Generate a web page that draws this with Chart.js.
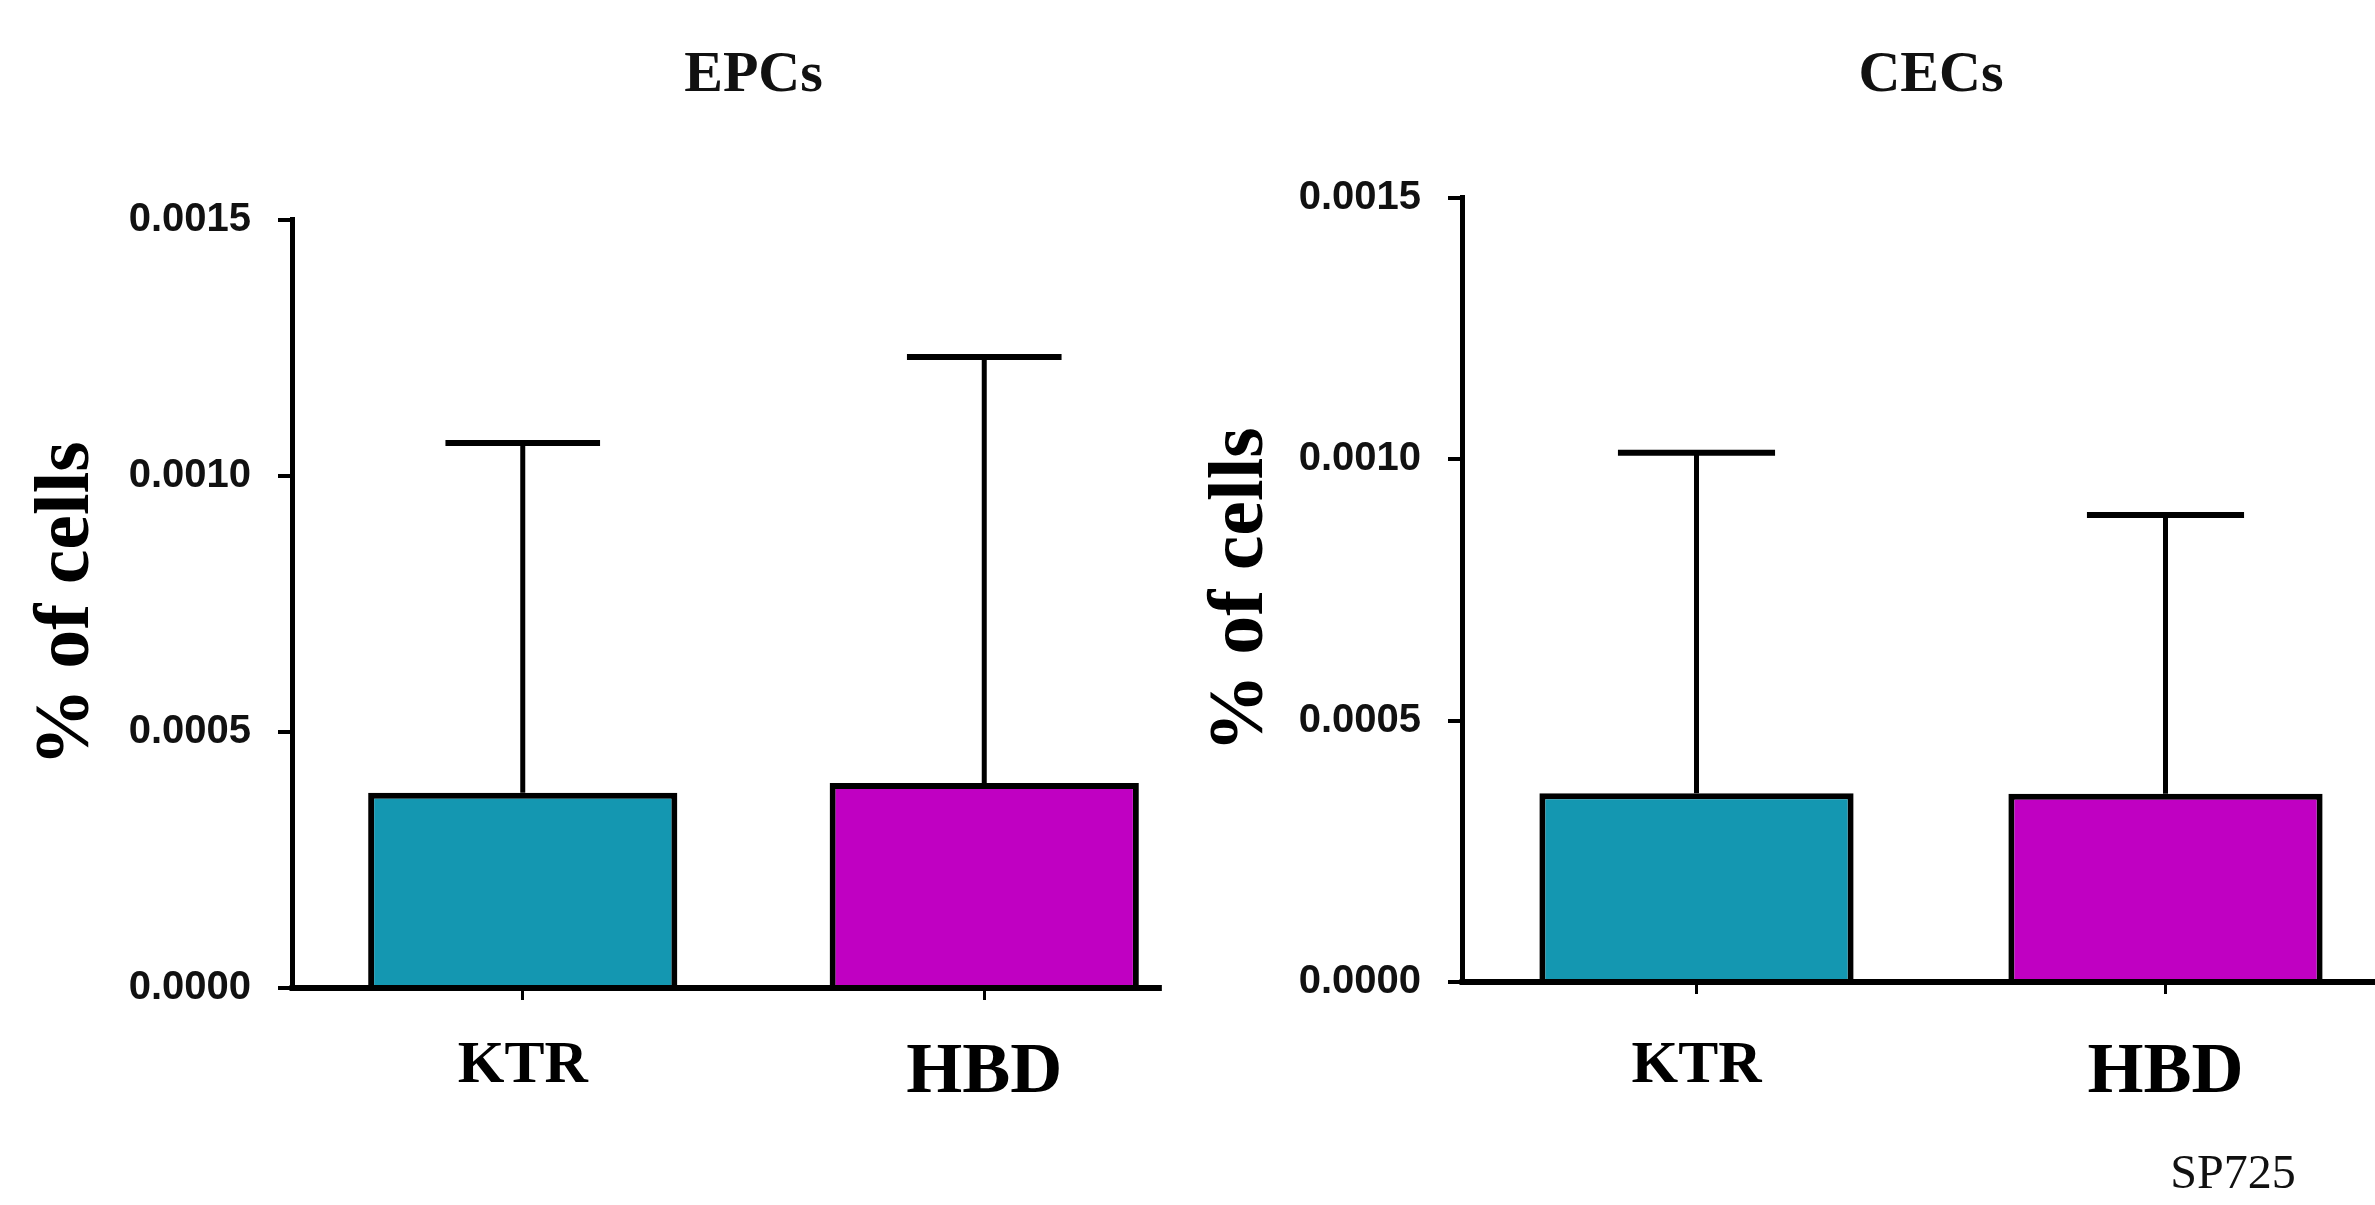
<!DOCTYPE html>
<html><head><meta charset="utf-8">
<script src="https://cdn.jsdelivr.net/npm/chart.js@4.4.1/dist/chart.umd.min.js"></script>
<style>
html,body{margin:0;padding:0;background:#fff;width:2375px;height:1205px;overflow:hidden;position:relative}
canvas{position:absolute;top:0}
</style></head><body>
<canvas id="c1" width="1215" height="1205" style="left:0px"></canvas>
<canvas id="c2" width="1220" height="1205" style="left:1180px"></canvas>
<script>
// ---- data ----
const groups = ['KTR', 'HBD'];
const barColors = ['#1497B1', '#C000C2'];
const epcTitle = 'EPCs';
const epcMeans = [0.000381, 0.000400];
const epcErrors = [0.000683, 0.000832];   // upper error (SD)
const cecTitle = 'CECs';
const cecMeans = [0.000361, 0.000360];
const cecErrors = [0.000651, 0.000533];
const yTicks = [0, 0.0005, 0.0010, 0.0015];
const yTitle = '% of cells';
const noteText = 'SP725';

const errorBarPlugin = {
  id: 'errorBars',
  afterDatasetsDraw(chart, args, opts) {
    const ctx = chart.ctx;
    const ys = chart.scales.y;
    const meta = chart.getDatasetMeta(0);
    const means = chart.data.datasets[0].data;
    const errs = opts.errors || [];
    ctx.save();
    ctx.strokeStyle = '#000';
    ctx.lineCap = 'butt';
    const y0 = ys.getPixelForValue(0);
    const last = meta.data[meta.data.length - 1];
    const end = opts.baselineToEdge ? chart.width : last.x + last.width / 2 + opts.baselineOvershoot;
    ctx.lineWidth = 6;
    ctx.beginPath(); ctx.moveTo(chart.chartArea.left - 2.5, y0); ctx.lineTo(end, y0); ctx.stroke();
    meta.data.forEach((bar, i) => {
      const top = ys.getPixelForValue(means[i] + errs[i]);
      const half = bar.width * opts.capRatio / 2;
      ctx.lineWidth = 5;
      ctx.beginPath(); ctx.moveTo(bar.x, bar.y); ctx.lineTo(bar.x, top); ctx.stroke();
      ctx.lineWidth = 6;
      ctx.beginPath(); ctx.moveTo(bar.x - half, top); ctx.lineTo(bar.x + half, top); ctx.stroke();
    });
    ctx.restore();
  },
  afterDraw(chart, args, opts) {
    if (!opts.note) return;
    const ctx = chart.ctx;
    ctx.save();
    ctx.fillStyle = '#111';
    ctx.font = '48px "Liberation Serif", serif';
    ctx.textAlign = 'center';
    ctx.textBaseline = 'middle';
    ctx.fillText(opts.note, opts.noteX, opts.noteY);
    ctx.restore();
  }
};

function makeChart(id, cfg) {
  return new Chart(document.getElementById(id), {
    type: 'bar',
    data: {
      labels: groups,
      datasets: [{
        data: cfg.means,
        backgroundColor: barColors,
        borderColor: '#000',
        borderWidth: 6,
        categoryPercentage: 1,
        barPercentage: 0.67
      }]
    },
    plugins: [errorBarPlugin],
    options: {
      responsive: false,
      animation: false,
      events: [],
      layout: { padding: 0 },
      plugins: {
        legend: { display: false },
        tooltip: { enabled: false },
        title: {
          display: true,
          text: cfg.title,
          fullSize: false,
          color: '#111',
          font: { family: '"Liberation Serif", serif', size: 58, weight: 'bold' },
          padding: { top: 41, bottom: cfg.titleBottom }
        },
        errorBars: {
          errors: cfg.errors,
          capRatio: 0.5,
          baselineOvershoot: 23,
          baselineToEdge: cfg.toEdge,
          note: cfg.note, noteX: cfg.noteX, noteY: cfg.noteY
        }
      },
      scales: {
        x: {
          type: 'category',
          offset: true,
          afterFit: s => { s.height = cfg.xHeight; },
          border: { display: false },
          grid: { display: true, drawOnChartArea: false, offset: false, drawTicks: true, tickLength: 12, color: '#000', lineWidth: 3 },
          ticks: {
            autoSkip: false, maxRotation: 0, minRotation: 0,
            color: '#000',
            padding: cfg.xPad,
            font: c => ({ family: '"Liberation Serif", serif', weight: 'bold', size: c.index === 0 ? 60 : 72 })
          }
        },
        y: {
          min: 0, max: 0.0015,
          afterFit: s => { s.width = cfg.yWidth; },
          afterBuildTicks: s => { s.ticks = yTicks.map(v => ({ value: v })); },
          border: { display: true, color: '#000', width: 5 },
          grid: { display: true, drawOnChartArea: false, drawTicks: true, tickLength: 14, color: '#000', lineWidth: 4 },
          ticks: {
            color: '#111',
            padding: 27,
            font: { family: '"Liberation Sans", Arial, sans-serif', size: 40, weight: 'bold' },
            callback: v => Number(v).toFixed(4)
          },
          title: {
            display: true,
            text: yTitle,
            color: '#000',
            font: { family: '"Liberation Serif", serif', size: 78, weight: 'bold' },
            padding: { top: cfg.yTitlePad, bottom: 0 }
          }
        }
      }
    }
  });
}

makeChart('c1', {
  title: epcTitle, means: epcMeans, errors: epcErrors,
  titleBottom: 109, xHeight: 217, xPad: 30, yWidth: 292, yTitlePad: 21, toEdge: false
});
makeChart('c2', {
  title: cecTitle, means: cecMeans, errors: cecErrors,
  titleBottom: 87, xHeight: 223, xPad: 36, yWidth: 282, yTitlePad: 15, toEdge: true,
  note: noteText, noteX: 1053, noteY: 1175
});
</script>
</body></html>
